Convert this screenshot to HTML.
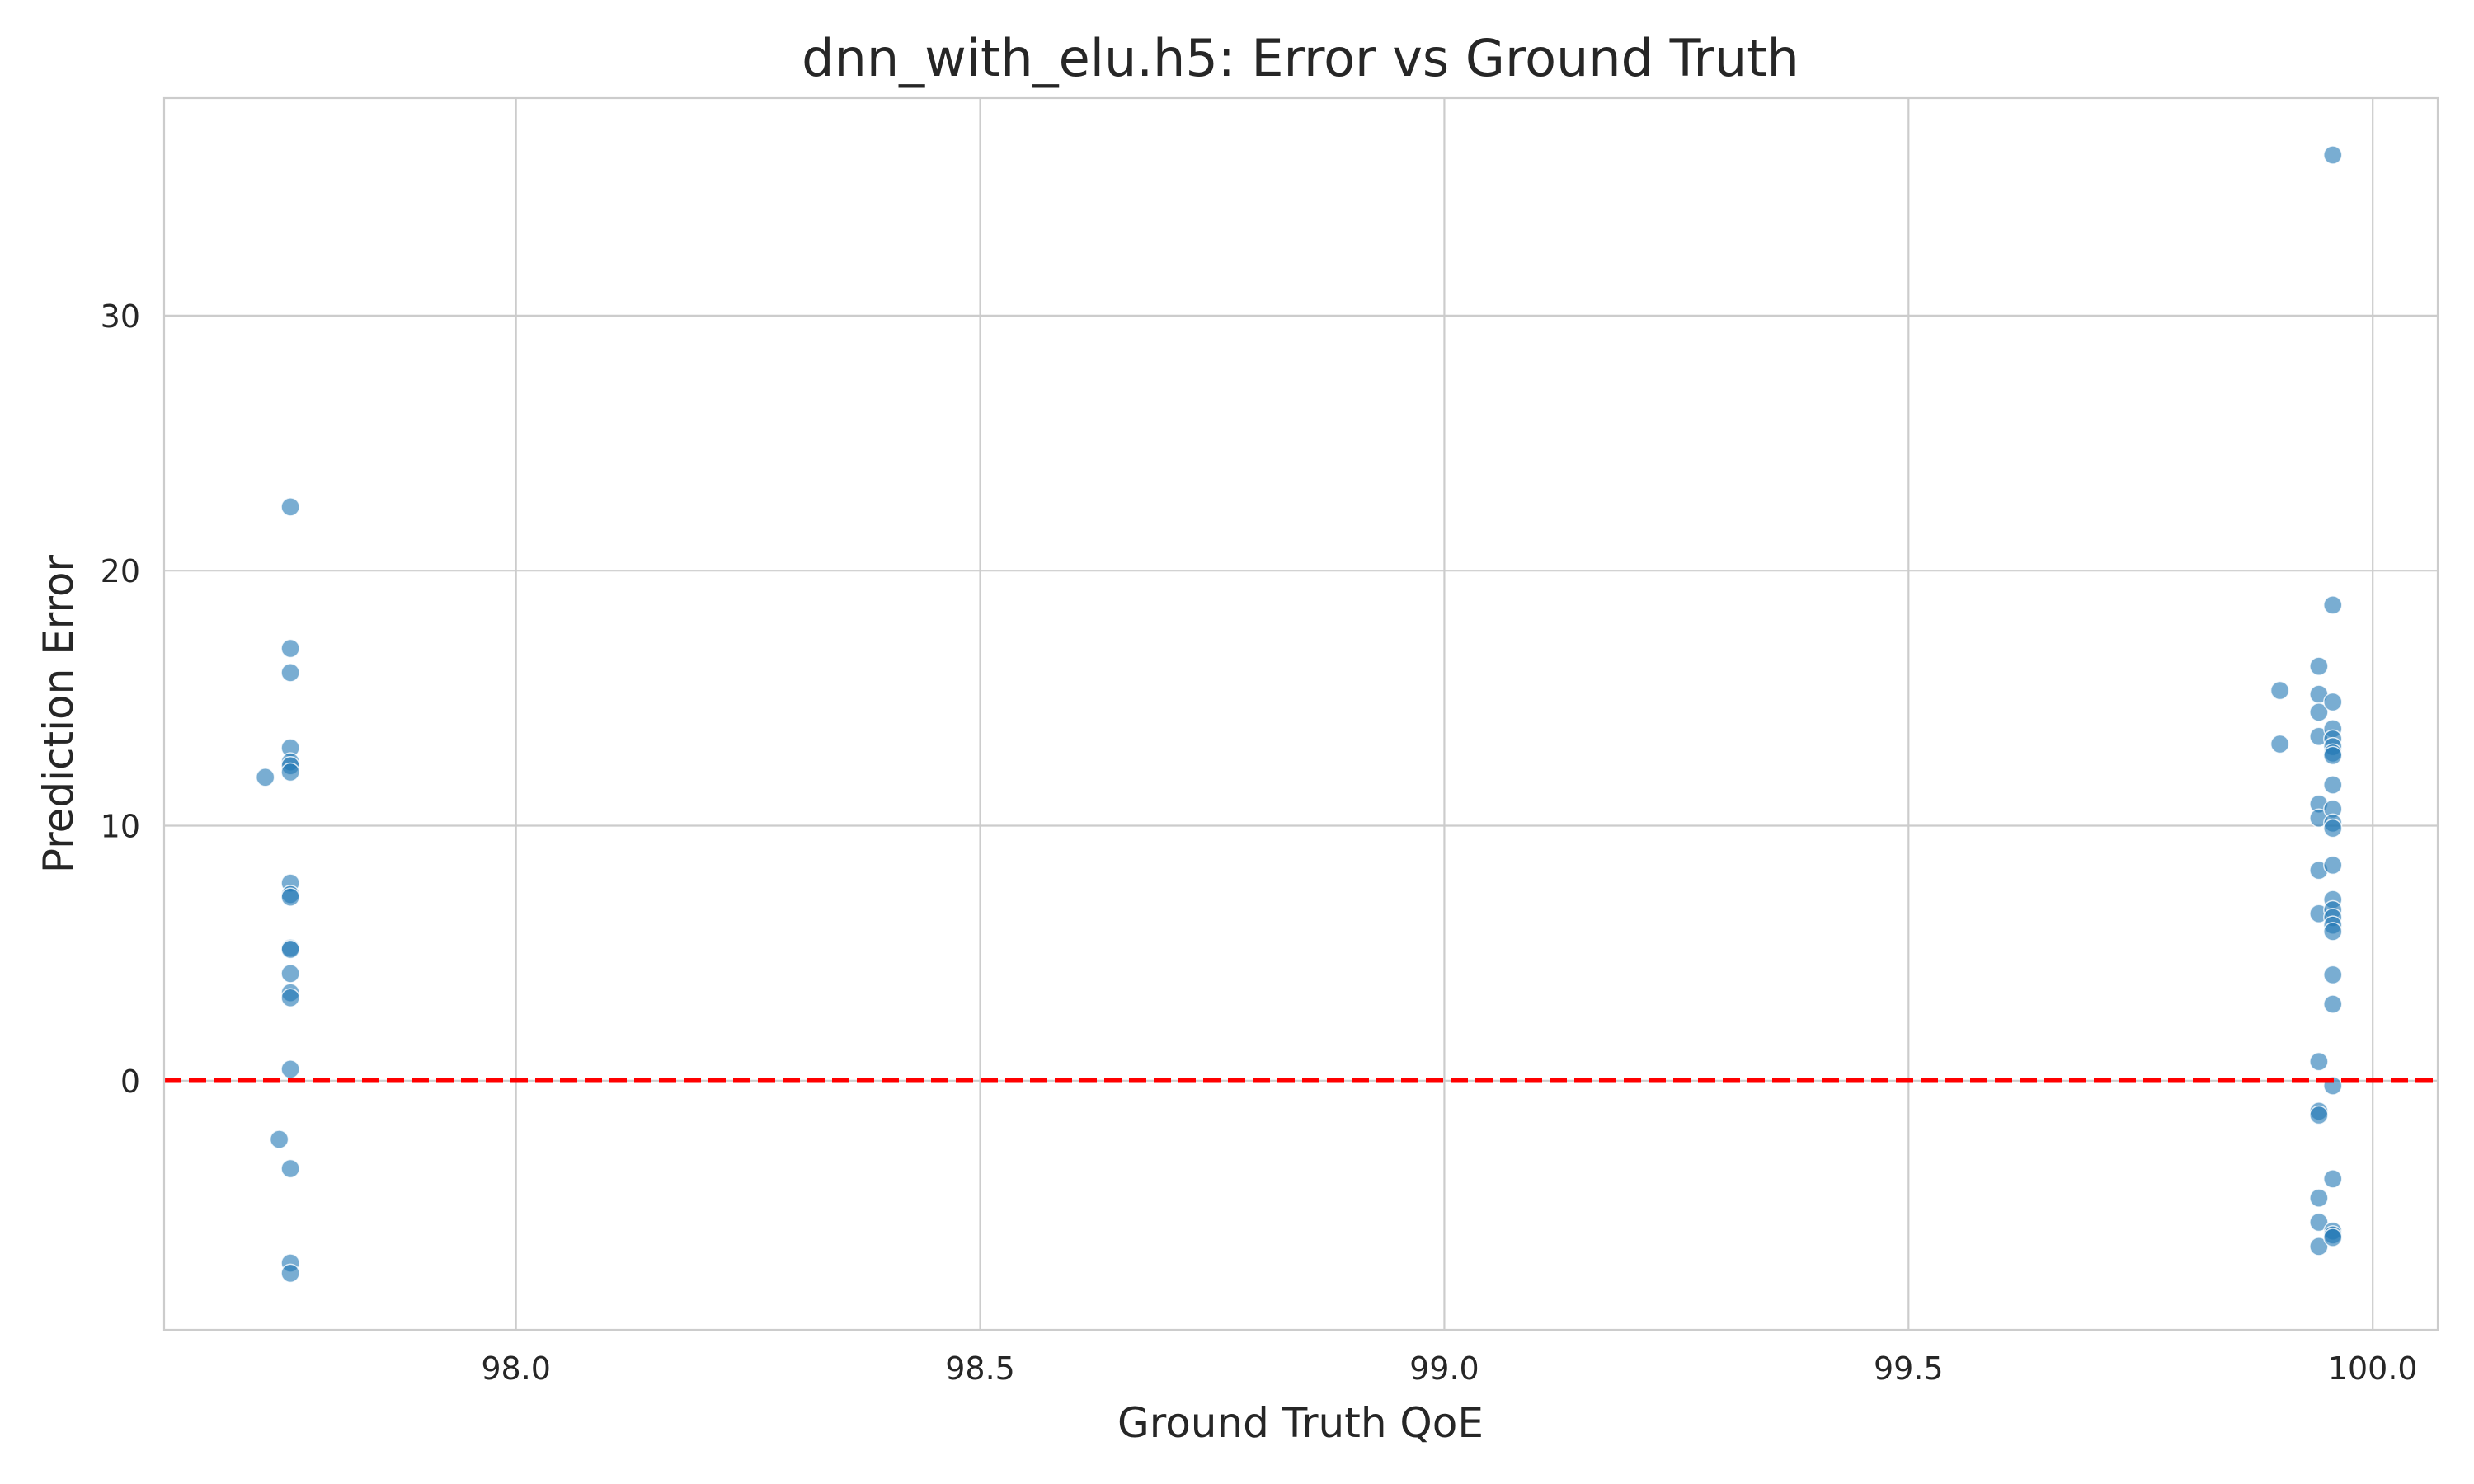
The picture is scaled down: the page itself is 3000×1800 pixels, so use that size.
<!DOCTYPE html>
<html><head><meta charset="utf-8"><style>
html,body{margin:0;padding:0;background:#fff;}
svg{display:block;font-family:"DejaVu Sans","Liberation Sans",sans-serif;}
</style></head><body>
<svg id="chart" width="3000" height="1800" viewBox="0 0 3000 1800" xmlns="http://www.w3.org/2000/svg">
<rect width="3000" height="1800" fill="#fff"/>
<g id="grid"></g>
<g id="points"></g>
<g id="axes"></g>
<text x="1577" y="92" text-anchor="middle" font-size="62" fill="#262626">dnn_with_elu.h5: Error vs Ground Truth</text>
<text x="1577" y="1743" text-anchor="middle" font-size="50" fill="#262626">Ground Truth QoE</text>
<text transform="translate(88,866) rotate(-90)" text-anchor="middle" font-size="50" fill="#262626">Prediction Error</text>
</svg>
<script>
const xTicks = [98.0, 98.5, 99.0, 99.5, 100.0];
const xTickLabels = ["98.0", "98.5", "99.0", "99.5", "100.0"];
const yTicks = [0, 10, 20, 30];
const yTickLabels = ["0", "10", "20", "30"];
const groundTruth = [
 97.757,97.757,97.757,97.757,97.757,97.757,97.757,97.757,97.757,97.757,97.757,97.757,97.757,97.757,97.757,97.757,97.757,97.757,97.757,
 97.73,97.745,
 99.90,99.90,
 99.942,99.942,99.942,99.942,99.942,99.942,99.942,99.942,99.942,99.942,99.942,99.942,99.942,99.942,
 99.957,99.957,99.957,99.957,99.957,99.957,99.957,99.957,99.957,99.957,99.957,99.957,99.957,99.957,99.957,99.957,99.957,99.957,99.957,99.957,99.957,99.957,99.957,99.957,99.957
];
const predError = [
 22.5,16.95,16.0,13.05,12.5,12.35,12.1,7.75,7.3,7.2,5.2,5.15,4.2,3.45,3.25,0.45,-3.45,-7.15,-7.55,
 11.9,-2.3,
 15.3,13.2,
 16.25,15.15,14.45,13.5,10.85,10.3,8.25,6.55,0.75,-1.2,-1.35,-4.6,-5.55,-6.5,
 36.3,18.65,14.85,13.8,13.4,13.1,12.85,12.75,11.6,10.65,10.1,9.9,8.45,7.1,6.7,6.4,6.1,5.85,4.15,3.0,-0.2,-3.85,-5.9,-6.05,-6.15
];
const refLine = [0];

const L=199,R=2956,T=119,B=1613;
const xMin=97.621,xMax=100.070,yMin=-9.77,yMax=38.53;
function xs(v){return L+(v-xMin)/(xMax-xMin)*(R-L);}
function ys(v){return B-(v-yMin)/(yMax-yMin)*(B-T);}
const NS="http://www.w3.org/2000/svg";
function mk(tag,attrs,parent){const e=document.createElementNS(NS,tag);for(const k in attrs)e.setAttribute(k,attrs[k]);parent.appendChild(e);return e;}
const grid=document.getElementById('grid'),pts=document.getElementById('points'),axes=document.getElementById('axes');

xTicks.forEach((t,i)=>{
 const x=xs(t);
 const g=mk('line',{x1:x,x2:x,y1:T,y2:B,stroke:'#cccccc','stroke-width':2.2},grid);
 
 
 const tx=mk('text',{x:x,y:1673,'text-anchor':'middle','font-size':38,fill:'#262626'},axes);
 tx.textContent=xTickLabels[i];
 
 
});
yTicks.forEach((t,i)=>{
 const y=ys(t);
 const g=mk('line',{x1:L,x2:R,y1:y,y2:y,stroke:'#cccccc','stroke-width':2.2},grid);
 
 
 const tx=mk('text',{x:170,y:y+14,'text-anchor':'end','font-size':38,fill:'#262626'},axes);
 tx.textContent=yTickLabels[i];
 
 
});
const frame=mk('rect',{x:L,y:T,width:R-L,height:B-T,fill:'none',stroke:'#cccccc','stroke-width':2.2},axes);



groundTruth.forEach((gt,i)=>{
 const c=mk('circle',{cx:xs(gt),cy:ys(predError[i]),r:11,fill:'#1f77b4','fill-opacity':0.6,stroke:'#ffffff','stroke-width':1.5,'stroke-opacity':0.8},pts);
 
 
});
refLine.forEach(v=>{
 const l=mk('line',{x1:L,x2:R,y1:ys(v),y2:ys(v),stroke:'#ff0000','stroke-width':5.5,'stroke-dasharray':'21 9'},pts);
 
 
});
</script>
</body></html>
